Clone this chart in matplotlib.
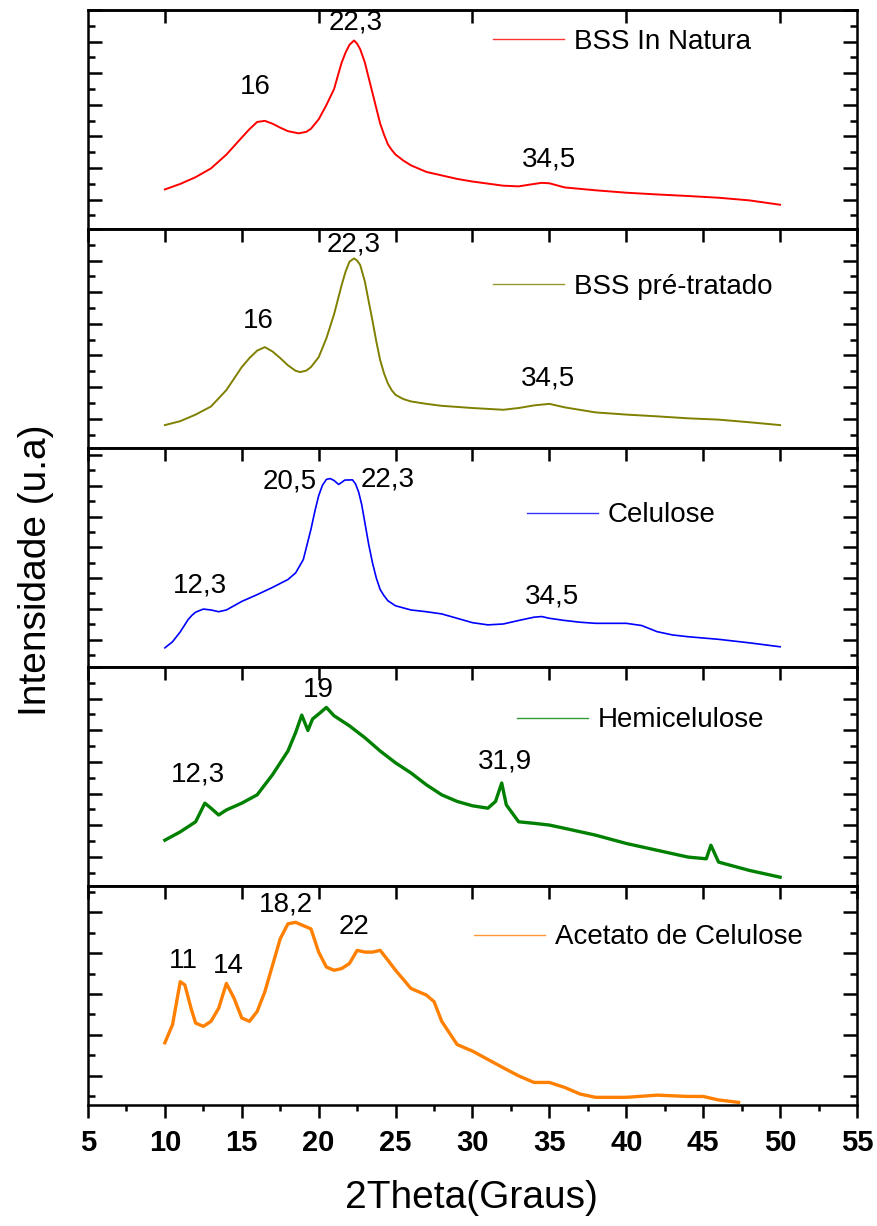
import matplotlib
matplotlib.use("Agg")
import matplotlib.pyplot as plt
from matplotlib.ticker import MultipleLocator, NullFormatter

plt.rcParams['font.family'] = ['Liberation Sans', 'DejaVu Sans']

# difratogramas lidos em % da altura de cada painel
theta_natura = [10, 11, 12, 13, 14, 15, 15.5, 16, 16.5, 17, 17.5, 18, 18.7, 19.2, 19.5, 20, 20.5, 21,
                21.25, 21.5, 21.75, 22, 22.3, 22.5, 22.7, 23, 23.25, 23.5, 23.75, 24, 24.25, 24.5, 24.75,
                25, 25.5, 26, 27, 28, 29, 30, 32, 33, 34, 34.5, 35, 36, 38, 40, 42, 44, 46, 48, 50]
int_natura = [18, 20.5, 23.6, 27.6, 33.9, 41.7, 45.5, 48.8, 49.3, 48, 46.2, 44.6, 43.6, 44.3, 45.7, 50, 56.5,
              63.8, 70, 76, 80.5, 84, 86, 84.5, 82, 76, 69, 62, 55, 48, 43, 38.6, 36, 33.9, 31.2, 29, 26,
              24.4, 22.8, 21.6, 19.7, 19.4, 20.5, 21, 20.8, 18.9, 17.6, 16.5, 15.7, 15, 14.2, 13, 11]

theta_pre = [10, 11, 12, 13, 14, 15, 15.5, 16, 16.5, 17, 17.5, 18, 18.5, 18.8, 19.2, 19.5, 20, 20.5, 21,
             21.5, 21.75, 22, 22.3, 22.5, 22.7, 23, 23.25, 23.5, 23.75, 24, 24.25, 24.5, 24.75, 25, 25.5,
             26, 27, 28, 30, 32, 33, 34, 35, 36, 38, 40, 42, 44, 46, 48, 50]
int_pre = [10.4, 12.2, 15.2, 18.9, 26.4, 36.9, 41, 44.4, 46, 44, 41, 37.7, 35.2, 34.6, 35.3, 36.9, 41.4, 50,
           61, 74.5, 80.5, 85, 86.5, 85.5, 83.5, 76, 67, 58, 48.5, 40, 34, 29.4, 26.3, 24.2, 22.3, 21.2,
           20.1, 19.2, 18.2, 17.4, 18.2, 19.4, 20.1, 18.5, 16.2, 15.2, 14.4, 13.5, 12.9, 11.7, 10.4]

theta_cel = [10, 10.5, 11, 11.5, 11.75, 12, 12.5, 13, 13.5, 14, 15, 16, 17, 18, 18.5, 19, 19.5, 19.75, 20,
             20.25, 20.5, 20.75, 21, 21.3, 21.7, 22.2, 22.4, 22.6, 22.8, 23, 23.25, 23.5, 23.75, 24, 24.25,
             24.5, 25, 26, 27, 28, 29, 30, 31, 32, 33, 34, 34.5, 35, 36, 37, 38, 39, 40, 41, 42, 43, 44,
             46, 48, 50]
int_cel = [8.7, 11.5, 16, 21.5, 23.5, 25, 26.4, 26, 25.2, 26, 29.9, 33, 36.3, 39.9, 42.9, 49, 62.9, 71, 78.2,
           83, 85.6, 86, 85.1, 83.3, 85.3, 85.4, 83.5, 79.8, 74, 66, 56, 47.5, 40.5, 35.3, 32.5, 30.2, 27.9,
           26, 25.2, 24.2, 22.2, 20.2, 19.2, 19.6, 21.2, 22.7, 23, 22.2, 21.2, 20.4, 19.9, 19.9, 19.9, 18.9,
           16.1, 14.6, 13.8, 12.6, 11, 9.2]

theta_hemi = [10, 11, 12, 12.6, 13, 13.5, 14, 15, 16, 17, 18, 18.5, 18.9, 19.3, 19.6, 20, 20.5, 21, 22, 23,
              24, 25, 26, 27, 28, 29, 30, 31, 31.5, 31.9, 32.2, 33, 34, 35, 36, 38, 40, 42, 44, 45.2, 45.5,
              46, 48, 50]
int_hemi = [20.9, 24.7, 29.3, 37.8, 35.5, 32.4, 34.7, 37.8, 41.6, 50.8, 61.6, 70, 78, 71, 76.2, 78.5, 81.5,
            77.7, 73.1, 67.7, 61.6, 56.2, 51.6, 46.2, 41.6, 38.6, 36.6, 35.5, 38.6, 47, 37, 29.3, 28.6, 27.8,
            26.3, 23.2, 19.4, 16.3, 13.2, 12.4, 18.6, 10.9, 7.1, 4]

theta_acet = [10, 10.5, 11, 11.3, 11.7, 12, 12.5, 13, 13.5, 14, 14.5, 15, 15.5, 16, 16.5, 17, 17.5, 18,
              18.5, 19, 19.5, 20, 20.5, 21, 21.5, 22, 22.5, 23, 23.5, 24, 24.5, 25, 26, 27, 27.5, 28, 29,
              30, 31, 32, 33, 34, 35, 36, 37, 38, 40, 42, 44, 45, 46, 47.3]
int_acet = [28.4, 36.7, 56.3, 54.8, 44.2, 37.4, 35.9, 38.2, 44.2, 55.5, 48.7, 39.7, 38.2, 42.7, 51.7, 63.8,
            75.9, 82.7, 83.4, 81.9, 80.4, 69.8, 63, 61.5, 62.3, 64.6, 70.6, 69.8, 69.8, 70.6, 66.1, 61.5,
            53.2, 50.2, 47.2, 38.2, 27.6, 24.6, 20.8, 17, 13.3, 10.3, 10.3, 8, 5, 3.5, 3.5, 4.5, 3.9, 3.9,
            2.3, 1.2]

amostras = ['BSS In Natura', 'BSS pré-tratado', 'Celulose', 'Hemicelulose', 'Acetato de Celulose']
cores = ['#ff0000', '#808000', '#0000ff', '#008000', '#ff8000']

# rótulos dos picos: (texto, 2theta, altura)
picos = [
    [('16', 15.9, 64.6), ('22,3', 22.4, 94.3), ('34,5', 35.0, 31.6)],
    [('16', 16.05, 57.7), ('22,3', 22.3, 92.8), ('34,5', 34.9, 31.5)],
    [('12,3', 12.3, 37), ('20,5', 18.1, 84.6), ('22,3', 24.5, 85.5), ('34,5', 35.2, 32)],
    [('12,3', 12.15, 51), ('19', 20.0, 89.4), ('31,9', 32.1, 57)],
    [('11', 11.2, 65.6), ('14', 14.1, 63.3), ('18,2', 17.9, 91.4), ('22', 22.3, 81.4)],
]

series = [(theta_natura, int_natura), (theta_pre, int_pre), (theta_cel, int_cel),
          (theta_hemi, int_hemi), (theta_acet, int_acet)]

# posição da legenda e marcação do eixo y em cada painel
leg_pos = [(0.527, 0.854), (0.527, 0.734), (0.571, 0.692), (0.558, 0.756), (0.502, 0.765)]
ytick = [(7.22, 6.1), (7.22, 6.1), (7.03, 5.4), (7.22, 6.1), (9.32, 4.1)]
larguras = [1.4, 1.4, 1.2, 2.4, 2.4]

fig, axes = plt.subplots(5, 1, figsize=(8.77, 12.26), dpi=100, gridspec_kw={'hspace': 0})
fig.subplots_adjust(left=0.1003, right=0.9772, top=0.992, bottom=0.0987)

for i, ax in enumerate(axes):
    x, y = series[i]
    ax.plot(x, y, color=cores[i], lw=larguras[i], label=amostras[i])
    ax.set_xlim(5, 55)
    ax.set_ylim(0, 100)

    for txt, px, py in picos[i]:
        ax.text(px, py, txt, ha='center', va='center', fontsize=20)

    lx, ly = leg_pos[i]
    leg = ax.legend(loc='center left', bbox_to_anchor=(lx, ly), frameon=False, fontsize=20,
                    handlelength=2.55, handletextpad=0.35, borderpad=0, borderaxespad=0)
    for h in leg.get_lines():
        h.set_linewidth(1.0)
        h.set_alpha(0.8)

    step, off = ytick[i]
    ax.yaxis.set_major_locator(MultipleLocator(2 * step, offset=off + step))
    ax.yaxis.set_minor_locator(MultipleLocator(step, offset=off))
    ax.yaxis.set_major_formatter(NullFormatter())
    ax.tick_params(axis='y', which='major', direction='in', left=True, right=True,
                   length=10, width=1.8)
    ax.tick_params(axis='y', which='minor', direction='in', left=True, right=True,
                   length=5, width=1.8)

    for s in ax.spines.values():
        s.set_linewidth(1.8)

    # marcas no topo de cada painel
    topo = ax.secondary_xaxis('top')
    topo.xaxis.set_major_locator(MultipleLocator(10 if i == 0 else 5))
    topo.tick_params(direction='in', length=9, width=1.8, labeltop=False)
    topo.spines['top'].set_linewidth(1.8)

    if i < 4:
        ax.tick_params(axis='x', which='both', bottom=False, labelbottom=False)
    else:
        ax.xaxis.set_major_locator(MultipleLocator(5))
        ax.xaxis.set_minor_locator(MultipleLocator(2.5))
        ax.tick_params(axis='x', which='major', direction='out', length=9, width=1.8,
                       labelsize=21, pad=8)
        ax.tick_params(axis='x', which='minor', direction='out', length=4, width=1.8)
        for lbl in ax.get_xticklabels():
            lbl.set_fontweight('bold')

fig.text(471 / 877, 1 - 1198 / 1226, '2Theta(Graus)', ha='center', va='center', fontsize=28)
fig.text(36 / 877, 1 - 570 / 1226, 'Intensidade (u.a)', ha='center', va='center',
         rotation=90, fontsize=28)

fig.savefig('out.png', dpi=100)
